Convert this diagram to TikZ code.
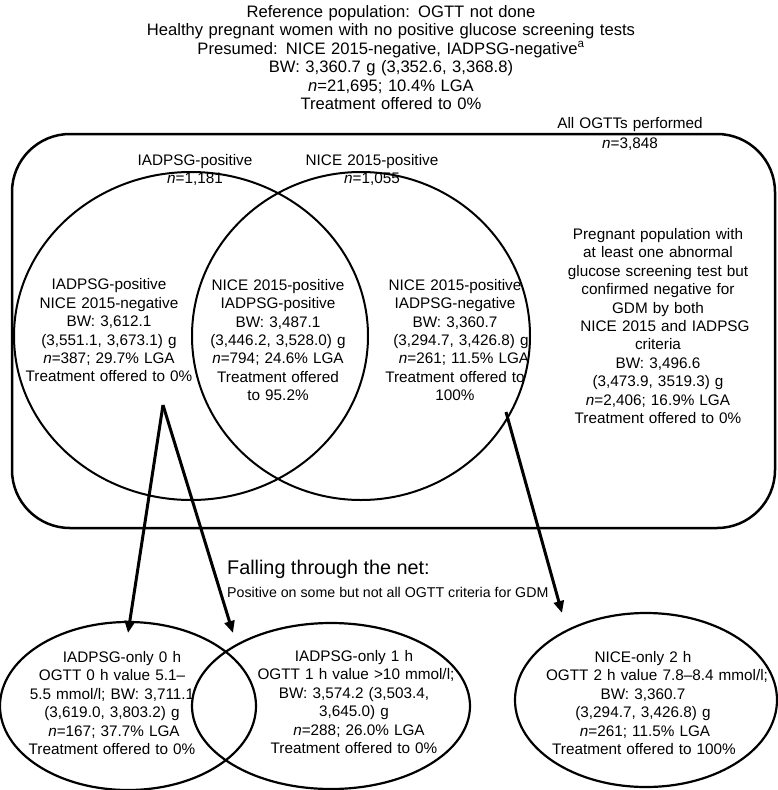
\documentclass[tikz,border=0pt]{standalone}
\usepackage{fontspec}
\setmainfont{Liberation Sans}
\usetikzlibrary{shapes.geometric,arrows.meta}
\newcommand\fTop{\fontsize{16.6}{18.4}\selectfont}
\newcommand\fCirc{\fontsize{15.3}{18.4}\selectfont}
\newcommand\fBig{\fontsize{19.8}{22}\selectfont}
\newcommand\fSub{\fontsize{14.2}{16}\selectfont}
\begin{document}
\begin{tikzpicture}[x=1pt,y=-1pt]
\tikzset{
  txt/.style={inner sep=0pt, align=center, text width=300pt, font=\fCirc},
  ring/.style={draw, ellipse, line width=2pt, inner sep=0pt},
  oval/.style={draw, ellipse, line width=2.2pt, inner sep=0pt},
  frame/.style={draw, rectangle, rounded corners=58pt, line width=2.5pt, inner sep=0pt},
  arr/.style={line width=3pt, -{Triangle[length=12pt,width=10pt]}},
  plain/.style={inner sep=0pt, anchor=west}
}
\useasboundingbox (0,0) rectangle (777,790);

% header
\node[txt, text width=520pt, font=\fTop] (top) at (391,57.5) {Reference population: OGTT not done\\
Healthy pregnant women with no positive glucose screening tests\\
Presumed: NICE 2015-negative, IADPSG-negative\textsuperscript{a}\\
BW: 3,360.7 g (3,352.6, 3,368.8)\\
\textit{n}=21,695; 10.4\% LGA\\
Treatment offered to 0\%};

% all OGTTs frame
\node[frame, minimum width=763pt, minimum height=394pt] (all) at (393.5,331) {};
\node[txt, font=\fontsize{15.3}{20}\selectfont] (alllab) at (630,134) {All OGTTs performed\\ \textit{n}=3,848\hspace*{8pt}};

% Venn circles
\node[ring, minimum width=354pt, minimum height=328pt] (iad) at (191,336) {};
\node[ring, minimum width=338pt, minimum height=328pt] (nice) at (361,336) {};

\node[txt] (iadlab) at (195,170) {IADPSG-positive\\ \textit{n}=1,181\hspace*{6pt}};
\node[txt] (nicelab) at (372,170) {NICE 2015-positive\\ \textit{n}=1,055};

\node[txt] (iadonly) at (109,330.5) {IADPSG-positive\\ NICE 2015-negative\\ BW: 3,612.1\hspace*{8pt}\\ (3,551.1, 3,673.1) g\\ \textit{n}=387; 29.7\% LGA\\ Treatment offered to 0\%};

\node[txt] (both) at (278,340) {NICE 2015-positive\\ IADPSG-positive\\ BW: 3,487.1\\ (3,446.2, 3,528.0) g\\ \textit{n}=794; 24.6\% LGA\\ Treatment offered\\ to 95.2\%};

\node[txt] (niceonly) at (455,340) {NICE 2015-positive\hspace*{28pt}\\ IADPSG-negative\hspace*{40pt}\\ BW: 3,360.7\\ \hspace*{12pt}(3,294.7, 3,426.8) g\\ \hspace*{18pt}\textit{n}=261; 11.5\% LGA\\ Treatment offered to\\ 100\%\hspace*{4pt}};

\node[txt] (neither) at (658,326) {Pregnant population with\\ at least one abnormal\\ glucose screening test but\\ confirmed negative for\\ GDM by both\\ \hspace*{14pt}NICE 2015 and IADPSG\\ criteria\hspace*{12pt}\\ BW: 3,496.6\\ (3,473.9, 3519.3) g\\ \textit{n}=2,406; 16.9\% LGA\\ Treatment offered to 0\%};

% falling through the net
\node[plain, font=\fBig] (fall) at (227,569) {Falling through the net:};
\node[plain, font=\fSub] (fallsub) at (227,592) {Positive on some but not all OGTT criteria for GDM};

% bottom ellipses
\node[oval, minimum width=256pt, minimum height=168pt] (e0) at (128,706) {};
\node[oval, minimum width=278pt, minimum height=166pt] (e1) at (331,706) {};
\node[oval, minimum width=262pt, minimum height=174pt] (e2) at (646,700) {};

\node[txt] (e0t) at (112,703) {\hspace*{20pt}IADPSG-only 0 h\\ OGTT 0 h value 5.1–\\ 5.5 mmol/l; BW: 3,711.1\hspace*{10pt}\\ (3,619.0, 3,803.2) g\\ \hspace*{4pt}\textit{n}=167; 37.7\% LGA\\ Treatment offered to 0\%};

\node[txt] (e1t) at (354,702) {IADPSG-only 1 h\hspace*{6pt}\\ \hspace*{4pt}OGTT 1 h value >10 mmol/l;\\ BW: 3,574.2 (3,503.4,\\ 3,645.0) g\hspace*{8pt}\\ \hspace*{10pt}\textit{n}=288; 26.0\% LGA\\ Treatment offered to 0\%\hspace*{4pt}};

\node[txt] (e2t) at (643,703) {NICE-only 2 h\hspace*{2pt}\\ \hspace*{28pt}OGTT 2 h value 7.8–8.4 mmol/l;\\ BW: 3,360.7\hspace*{14pt}\\ (3,294.7, 3,426.8) g\hspace*{8pt}\\ \hspace*{4pt}\textit{n}=261; 11.5\% LGA\\ \hspace*{2pt}Treatment offered to 100\%};

% arrows
\coordinate (s1) at (163,405);
\coordinate (t1) at (128,633);
\coordinate (t2) at (233,633);
\coordinate (s3) at (506,412);
\coordinate (t3) at (562,613);
\draw[arr] (s1) -- (t1);
\draw[arr] (s1) -- (t2);
\draw[arr] (s3) -- (t3);
\end{tikzpicture}
\end{document}
